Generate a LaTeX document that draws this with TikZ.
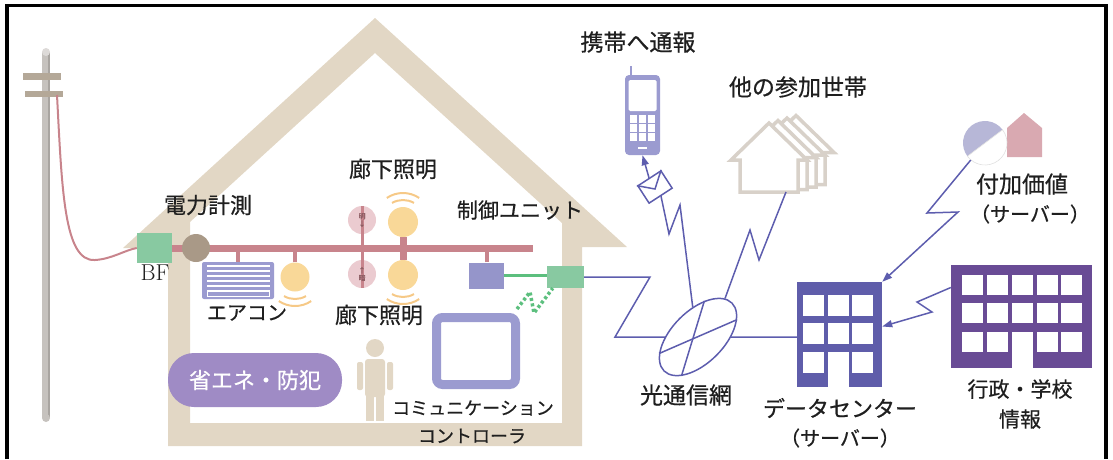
\documentclass[tikz,border=0pt]{standalone}
\usepackage{fontspec}
\newfontfamily\jp[FakeBold=0.6]{Noto Sans CJK JP}
\usetikzlibrary{arrows.meta,positioning,shapes.geometric}
\definecolor{housebg}{HTML}{E2D7C5}
\definecolor{busc}{HTML}{C8848C}
\definecolor{bfc}{HTML}{88C9A1}
\definecolor{meterc}{HTML}{A99987}
\definecolor{lavc}{HTML}{9B9BD0}
\definecolor{lampc}{HTML}{F9D898}
\definecolor{wavec}{HTML}{F6C987}
\definecolor{sensc}{HTML}{EBCBD0}
\definecolor{cuc}{HTML}{9595CA}
\definecolor{glinec}{HTML}{5CBF7E}
\definecolor{pillc}{HTML}{9F8BC5}
\definecolor{netc}{HTML}{5D5DAE}
\definecolor{dcc}{HTML}{5F5DAA}
\definecolor{govc}{HTML}{694B95}
\definecolor{vcc}{HTML}{B7B7D7}
\definecolor{pinkhc}{HTML}{D9A9B1}
\definecolor{hhc}{HTML}{D8D1C9}
\definecolor{polec}{HTML}{C6C2BE}
\definecolor{poledk}{HTML}{A9A5A1}
\definecolor{barc}{HTML}{B4A898}
\definecolor{ink}{HTML}{1F1F1F}
\tikzset{
  lbl/.style   = {font=\jp\fontsize{22pt}{24pt}\selectfont, text=ink, inner sep=0pt},
  slbl/.style  = {font=\jp\fontsize{18pt}{20pt}\selectfont, text=ink, inner sep=0pt},
  plbl/.style  = {font=\jp\fontsize{20pt}{22pt}\selectfont, text=ink, inner sep=0pt},
  bus/.style   = {draw=busc, line width=7pt},
  drop/.style  = {draw=busc, line width=4.5pt},
  lamp/.style  = {circle, fill=lampc, minimum size=29pt, inner sep=0pt},
  sensor/.style= {circle, fill=sensc, minimum size=28pt, inner sep=0pt},
  wave/.style  = {draw=wavec, line width=2pt},
  box/.style   = {rectangle, inner sep=0pt},
  net/.style   = {draw=netc, line width=1.5pt},
  arr/.style   = {net, -{Triangle[length=10pt,width=7pt]}},
  hh/.style    = {draw=hhc, fill=white, line width=3.5pt, line join=miter},
}

\begin{document}
\begin{tikzpicture}[x=1pt,y=-1pt]
  \useasboundingbox (0,0) rectangle (1113,459);

  % utility pole
  \fill[polec] (42,52) rectangle (50,418);
  \fill[poledk] (47.5,52) rectangle (50,418);
  \fill[polec!60] (46,52) circle (4pt);
  \fill[polec] (46,418) circle (4pt);
  \fill[barc] (23,73) rectangle (61,80);
  \fill[barc] (25,91) rectangle (63,97);
  \coordinate (tap) at (57,95);

  % house
  \fill[housebg, even odd rule]
    (123,248) -- (375,18) -- (627,247) -- (582,247) -- (582,446) -- (168,446) -- (168,248) -- cycle
    (190,423) -- (190,222) -- (375,53) -- (562,223) -- (562,423) -- cycle;

  \node[box, fill=pillc, rounded corners=26pt, minimum width=174pt, minimum height=54pt,
        font=\jp\fontsize{22pt}{24pt}\selectfont, text=white] (eco) at (255,380) {省エネ・防犯};

  % power line inside
  \node[box, fill=bfc, minimum width=35pt, minimum height=30pt] (bf) at (154.5,248) {};
  \coordinate (busend) at (533,248);
  \draw[bus] (bf.east) -- (busend);
  \node[circle, fill=meterc, minimum size=28pt, inner sep=0pt] (meter) at (196,248) {};
  \draw[draw=busc, line width=2pt] (tap) .. controls (62,190) and (64,262) .. (95,260)
    .. controls (112,259) and (125,250) .. (bf.west);
  \node[lbl] (meterlbl) at (208,205) {電力計測};
  \node[inner sep=0pt, text=ink, font=\rmfamily\fontsize{23pt}{25pt}\selectfont] (bflbl) at (155,273) {BF};

  % air conditioner
  \node[box, fill=lavc, rounded corners=2pt, minimum width=72pt, minimum height=37pt] (ac) at (238,280.5) {};
  \draw[drop] (ac.north) -- (ac.north |- busend);
  \foreach \y in {266,271,276,281,286}
    \draw[white, line width=1.5pt] (207,\y) -- (270,\y);
  \draw[white, line width=1.5pt] (207.5,291) rectangle (269.5,296.5);
  \node[lamp] (lampac) at (295,277) {};
  \draw[drop] (lampac.north) -- (lampac.north |- busend);
  \draw[wave] (lampac.center) ++(240:22pt) arc[start angle=240, end angle=300, radius=22pt];
  \draw[wave] (lampac.center) ++(236:29pt) arc[start angle=236, end angle=304, radius=29pt];
  \node[plbl] (aclbl) at (247,313) {エアコン};

  % corridor lights and sensors
  \node[sensor] (s1) at (362,220) {};
  \node[sensor] (s2) at (362,274) {};
  \draw[draw=busc, line width=3pt] (s1.north) -- (s2.south);
  \node[font=\jp\fontsize{7pt}{7.5pt}\selectfont, text=busc!70!black, align=center, inner sep=0pt] at (362,220) {明\\↓};
  \node[font=\jp\fontsize{7pt}{7.5pt}\selectfont, text=busc!70!black, align=center, inner sep=0pt] at (362,274) {↑\\暗};
  \node[lamp, minimum size=30pt] (l1) at (403,222) {};
  \node[lamp, minimum size=30pt] (l2) at (403,275) {};
  \draw[bus] (l1.south) -- (l2.north);
  \draw[wave] (l1.center) ++(60:22pt) arc[start angle=60, end angle=120, radius=22pt];
  \draw[wave] (l1.center) ++(56:29pt) arc[start angle=56, end angle=124, radius=29pt];
  \draw[wave] (l2.center) ++(240:22pt) arc[start angle=240, end angle=300, radius=22pt];
  \draw[wave] (l2.center) ++(236:29pt) arc[start angle=236, end angle=304, radius=29pt];
  \node[lbl] (l1lbl) at (393,169) {廊下照明};
  \node[lbl] (l2lbl) at (379,315) {廊下照明};

  % control unit and home gateway
  \node[box, fill=cuc, minimum width=35pt, minimum height=26pt] (cu) at (486.5,275.5) {};
  \draw[drop, line width=4pt] (cu.north) -- (cu.north |- busend);
  \node[lbl, font=\jp\fontsize{21pt}{23pt}\selectfont] (culbl) at (520,210) {制御ユニット};
  \node[box, fill=bfc, minimum width=37pt, minimum height=22pt] (onu) at (565.5,277) {};
  \draw[draw=glinec, line width=3pt] (cu.east) -- (cu.east -| onu.west);

  % communication controller
  \node[box, draw=lavc, line width=9pt, rounded corners=6pt, minimum width=79pt, minimum height=67pt] (ctl) at (476,351) {};
  \draw[draw=glinec, line width=3.5pt, dash pattern=on 3pt off 2.5pt]
    ([xshift=-3pt,yshift=4pt]ctl.north east) -- (530,292) -- (534,313) -- ([xshift=6pt]onu.south west);
  \node[slbl] (ctllbl1) at (473,408) {コミュニケーション};
  \node[slbl] (ctllbl2) at (472,436) {コントローラ};

  % resident
  \fill[housebg] (375,348) circle (9pt);
  \fill[housebg, rounded corners=3pt] (365,359) rectangle (385,397);
  \fill[housebg, rounded corners=2pt] (357,362) rectangle (363,390);
  \fill[housebg, rounded corners=2pt] (387,362) rectangle (393,390);
  \fill[housebg] (366,394) rectangle (374,421);
  \fill[housebg] (376,394) rectangle (384,421);

  % optical network
  \node[ellipse, draw=netc, line width=1.5pt, minimum width=96pt, minimum height=52pt,
        inner sep=0pt, rotate=45] (net) at (698,337) {};
  \draw[net] (net.158) -- (net.-21);
  \draw[net] (net.202) -- (net.35);
  \draw[net] (onu.east) -- (650,277) -- (615,337) -- (net);
  \node[lbl, font=\jp\fontsize{23pt}{25pt}\selectfont] (netlbl) at (686,395) {光通信網};

  % mobile phone
  \node[box, fill=lavc, rounded corners=4pt, minimum width=35pt, minimum height=80pt] (phone) at (642.5,115) {};
  \draw[draw=lavc, line width=2.5pt] (631,76) -- (631,66);
  \fill[white, rounded corners=1.5pt] (628.5,80) rectangle (656.5,111);
  \foreach \x in {629.5,638.5,647.5}
    \foreach \y in {115,124,133}
      \fill[white] (\x,\y) rectangle ++(7.5,7.5);
  \fill[white] (638,146.5) rectangle (647,149);
  \node[box, draw=netc, fill=white, line width=1.5pt, minimum width=27.5pt, minimum height=20.6pt,
        rotate=33] (env) at (655,187) {};
  \draw[net] (env.north west) -- ([yshift=-2pt]env.center) -- (env.north east);
  \draw[net] (net.55) -- (680,205) -- (669,234) -- (env.south);
  \draw[arr] (env.north) -- (phone.south);
  \node[lbl, font=\jp\fontsize{23pt}{25pt}\selectfont] (phonelbl) at (638,42) {携帯へ通報};

  % other households
  \foreach \k in {3,2,1,0}
    \draw[hh, shift={(9*\k,-2.5*\k)}]
      (740,192) -- (740,160) -- (731,160) -- (769,123) -- (807,160) -- (798,160) -- (798,192) -- cycle;
  \coordinate (hh) at (786,192);
  \draw[net] (net.10) -- (750,230) -- (759,260) -- (hh);
  \node[lbl, font=\jp\fontsize{23pt}{25pt}\selectfont] (hhlbl) at (798,87) {他の参加世帯};

  % data center
  \node[box, fill=dcc, minimum width=85pt, minimum height=105pt] (dc) at (839.5,334.5) {};
  \foreach \x in {803,828,852}
    \foreach \y in {295,323,352}
      \fill[white] (\x,\y) rectangle ++(21,20.5);
  \fill[white] (828,352) rectangle (849,388);
  \draw[net] (net) -- (net -| dc.west);
  \node[lbl] (dclbl) at (840,408) {データセンター};
  \node[plbl] (dcsub) at (840,438) {（サーバー）};

  % value-added service
  \fill[pinkhc] (1007,157) -- (1007,128) -- (1024,113) -- (1042,128) -- (1042,157) -- cycle;
  \node[circle, minimum size=44pt, inner sep=0pt] (vc) at (985,143) {};
  \fill[vcc] (vc.center) ++(37:22pt) arc[start angle=37, end angle=217, radius=22pt] -- cycle;
  \filldraw[draw=black!12, fill=white, line width=0.6pt] (vc.center) ++(217:22pt)
    arc[start angle=217, end angle=397, radius=22pt] -- cycle;
  \node[lbl, font=\jp\fontsize{23pt}{25pt}\selectfont] (vclbl) at (1022,184) {付加価値};
  \node[plbl] (vcsub) at (1030,214) {（サーバー）};
  \draw[arr] (vc.230) -- (927,213) -- (958,212) -- (dc.north east);

  % administration / school
  \node[box, fill=govc, minimum width=141pt, minimum height=103pt] (gov) at (1021.5,316.5) {};
  \foreach \x in {962,987,1012,1037,1061}
    \foreach \y in {275,303,332}
      \fill[white] (\x,\y) rectangle ++(21,20);
  \fill[white] (1012,332) rectangle (1033,369);
  \draw[arr] ([yshift=29pt]gov.west) -- (917,302) -- (932,312) -- ([yshift=8pt]dc.east);
  \node[lbl, font=\jp\fontsize{21pt}{23pt}\selectfont] (govlbl) at (1020,389) {行政・学校};
  \node[lbl, font=\jp\fontsize{21pt}{23pt}\selectfont] (govsub) at (1020,419) {情報};

  % frame
  \draw[line width=3.5pt] (7,459) -- (7,5.5) -- (1106,5.5) -- (1106,459);
\end{tikzpicture}
\end{document}
